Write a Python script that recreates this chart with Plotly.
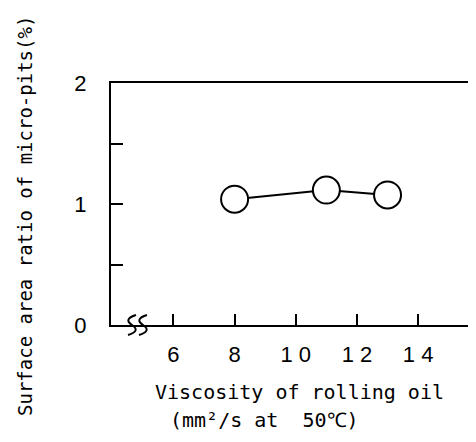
import plotly.graph_objects as go

# Data
viscosity = [8, 11, 13]
pit_ratio = [1.04, 1.115, 1.075]

x_tick_vals = [6, 8, 10, 12, 14]
x_tick_text = ["6", "8", "1 0", "1 2", "1 4"]
y_tick_vals = [0, 0.5, 1, 1.5, 2]
y_tick_text = ["0", "", "1", "", "2"]

y_title = "Surface area ratio of micro-pits(%)"
x_title_1 = "Viscosity of rolling oil"
x_title_2 = "(mm²/s at  50℃)"

# page body has an 8px margin; keep the page within the window
OFF = 8
W, H = 476 - 2 * OFF, 442 - 2 * OFF
L, T = 111 - OFF, 83 - OFF
R = 0
B = H - (325 - OFF)
PW, PH = W - L - R, H - T - B

def px(x):
    return (x - OFF - L) / PW

def py(y):
    return (T + PH - (y - OFF)) / PH

fig = go.Figure()
fig.add_trace(go.Scatter(
    x=viscosity, y=pit_ratio, mode="lines+markers",
    line=dict(color="black", width=2),
    marker=dict(size=27, color="white", symbol="circle",
                line=dict(color="black", width=2)),
    showlegend=False, cliponaxis=False,
))

tick_font = dict(family="Liberation Sans, Arial, sans-serif", size=22, color="black")
title_font = dict(family="DejaVu Sans Mono, monospace", size=20, color="black")

fig.update_xaxes(
    range=[3.96, 15.63], tickvals=x_tick_vals, ticktext=x_tick_text,
    ticks="inside", ticklen=11, tickwidth=1.5, tickcolor="black",
    showline=True, linecolor="black", linewidth=2, mirror=True,
    showgrid=False, zeroline=False, tickfont=tick_font,
    ticklabelstandoff=9,
)
fig.update_yaxes(
    range=[0, 2], tickvals=y_tick_vals, ticktext=y_tick_text,
    ticks="inside", ticklen=12, tickwidth=1.5, tickcolor="black",
    showline=True, linecolor="black", linewidth=2, mirror=False,
    showgrid=False, zeroline=False, tickfont=tick_font,
    ticklabelstandoff=18,
)

# axis break squiggles
for cx in (132, 143):
    x0 = px(cx)
    dx = 5 / PW
    dy = 10 / PH
    path = (f"M {x0 + dx*0.8},{dy} Q {x0 - dx*1.8},{dy*0.6} {x0},{0} "
            f"Q {x0 + dx*1.8},{-dy*0.6} {x0 - dx*0.8},{-dy}")
    fig.add_shape(type="path", path=path, xref="paper", yref="paper",
                  line=dict(color="black", width=2))

fig.add_annotation(text=y_title, xref="paper", yref="paper",
                   x=px(25), y=py(216), textangle=-90, showarrow=False,
                   font=dict(family="DejaVu Sans Mono, monospace", size=19, color="black"),
                   xanchor="center", yanchor="middle")
fig.add_annotation(text=x_title_1, xref="paper", yref="paper",
                   x=px(299.5), y=py(392), showarrow=False,
                   font=title_font, xanchor="center", yanchor="middle")
fig.add_annotation(text=x_title_2, xref="paper", yref="paper",
                   x=px(168), y=py(420), showarrow=False,
                   font=title_font, xanchor="left", yanchor="middle")

fig.update_layout(
    width=W, height=H,
    margin=dict(l=L, r=R, t=T, b=B, pad=0),
    paper_bgcolor="white", plot_bgcolor="white",
)

fig.write_html("out.html")
